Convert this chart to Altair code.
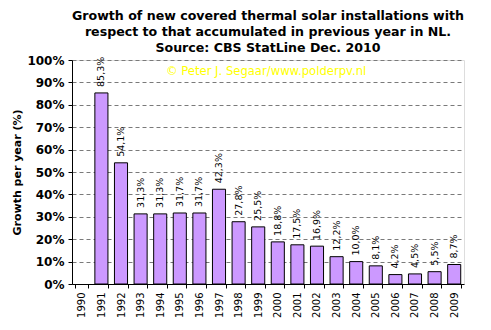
import altair as alt
import pandas as pd

years = [str(y) for y in range(1990, 2010)]
growth = [None, 85.3, 54.1, 31.3, 31.3, 31.7, 31.7, 42.3, 27.8, 25.5,
          18.8, 17.5, 16.9, 12.2, 10.0, 8.1, 4.2, 4.5, 5.5, 8.7]
y_ticks = [0, 10, 20, 30, 40, 50, 60, 70, 80, 90, 100]

labels = ["" if v is None else f"{v:.1f}%".replace(".", ",") for v in growth]
df = pd.DataFrame({"year": years, "growth": growth, "label": labels})

x = alt.X("year:N", sort=years,
          scale=alt.Scale(paddingInner=0.333, paddingOuter=0.1667),
          axis=alt.Axis(title=None, labelAngle=270, labelFontSize=10,
                        labelFont="DejaVu Sans", labelColor="black",
                        labelPadding=4, tickBand="extent", tickSize=4,
                        tickColor="black", domainColor="black", grid=False,
                        labelAlign="right", labelBaseline="middle",
                        labelOverlap=False))
y = alt.Y("growth:Q",
          scale=alt.Scale(domain=[0, 100], nice=False),
          axis=alt.Axis(title="Growth per year (%)", values=y_ticks,
                        labelExpr="datum.value + '%'", labelFontWeight="bold",
                        labelOverlap=False,
                        labelFontSize=12, labelFont="DejaVu Sans", labelColor="black",
                        tickSize=4, tickColor="black", domainColor="black",
                        labelPadding=4, grid=True, gridColor="#7a7a7a",
                        gridDash=[4, 3], titleFontSize=11, titleFontWeight="bold",
                        titleFont="DejaVu Sans", titleColor="black",
                        titleX=-55, titleY=112, titleAngle=270,
                        titleAlign="center", titleBaseline="middle"))

bars = alt.Chart(df).mark_bar(color="#CC99FF", stroke="black", strokeWidth=1).encode(
    x=x, y=y)

text = alt.Chart(df).mark_text(angle=270, align="left", baseline="middle", dx=6,
                               fontSize=9.5, font="DejaVu Sans", color="black").encode(
    x=x, y=y, text="label:N")

copyright = alt.Chart(pd.DataFrame({"t": ["© Peter J. Segaar/www.polderpv.nl"]})).mark_text(
    align="left", baseline="alphabetic", fontSize=11.6, font="DejaVu Sans",
    color="#FFFF00").encode(x=alt.value(94), y=alt.value(15), text="t:N")

chart = alt.layer(bars, text, copyright).properties(
    width=392, height=224,
    padding={"left": 72, "top": 60, "right": 27, "bottom": 46},
    autosize=alt.AutoSizeParams(type="none"),
    title=alt.TitleParams(
        text=["Growth of new covered thermal solar installations with",
              "respect to that accumulated in previous year in NL.",
              "Source: CBS StatLine Dec. 2010"],
        fontSize=12.6, font="DejaVu Sans", fontWeight="bold", color="black",
        lineHeight=16, anchor="middle", offset=-1),
).configure_view(fill="#969696", stroke="#808080", strokeWidth=1
).configure(background="white")

chart.save("out.html", embed_options={"renderer": "svg", "actions": False})
